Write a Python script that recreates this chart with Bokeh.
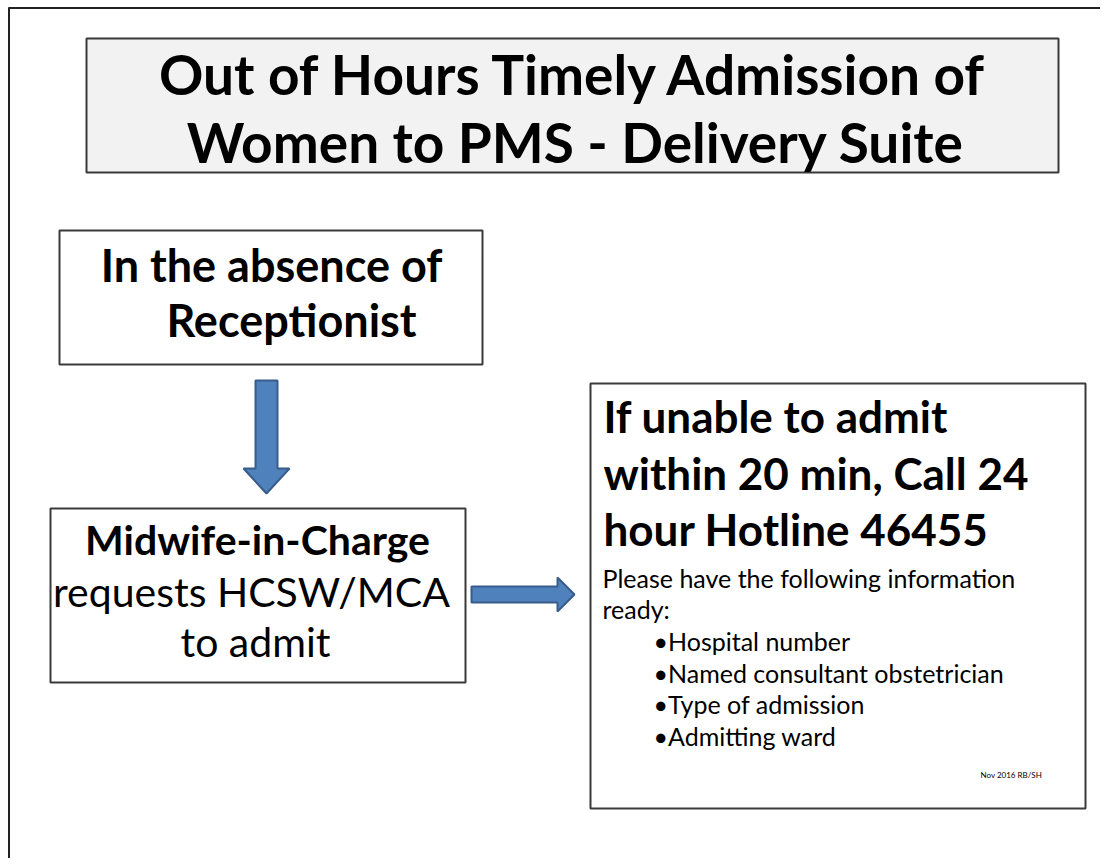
from bokeh.plotting import figure
from bokeh.models import Range1d
from bokeh.core.properties import value
from bokeh.embed import file_html
from bokeh.resources import INLINE

# ---- content ----
title_lines = ["Out of Hours Timely Admission of", "Women to PMS - Delivery Suite"]
box1_lines = ["In the absence of", "Receptionist"]
box2_bold = ["Midwife-in-Charge"]
box2_regular = ["requests HCSW/MCA", "to admit"]
box3_bold = ["If unable to admit", "within 20 min, Call 24", "hour Hotline 46455"]
box3_intro = ["Please have the following information", "ready:"]
box3_bullets = ["\u2022Hospital number", "\u2022Named consultant obstetrician",
                "\u2022Type of admission", "\u2022Admitting ward"]
footnote = ["Nov 2016 RB/SH"]

FONT = "Lato"
EDGE = "#3a3a3a"
ARROW_FILL = "#4f81bd"
ARROW_EDGE = "#385d8a"

p = figure(width=1100, height=858, x_range=Range1d(0, 1100), y_range=Range1d(858, 0),
           output_backend="svg", toolbar_location=None, min_border=0,
           x_axis_type=None, y_axis_type=None)
p.grid.visible = False
p.outline_line_color = None
p.background_fill_color = "white"

# outer frame (left and top edges)
p.line(x=[8.5, 8.5], y=[7, 858], line_color="#222222", line_width=2)
p.line(x=[8, 1100], y=[7.5, 7.5], line_color="#222222", line_width=2)

# boxes
p.quad(left=[86], right=[1058], top=[38], bottom=[172], fill_color="#f2f2f2",
       line_color=EDGE, line_width=2)
p.quad(left=[59, 50, 590], right=[482, 465, 1085], top=[230, 508, 383],
       bottom=[364, 682, 808], fill_color="white", line_color=EDGE, line_width=2)

# arrows
p.patch(x=[255, 277, 277, 289, 266, 243, 255], y=[380, 380, 468, 468, 493, 468, 468],
        fill_color=ARROW_FILL, line_color=ARROW_EDGE, line_width=2)
p.patch(x=[471, 557, 557, 574, 557, 557, 471], y=[586, 586, 577, 594, 611, 602, 602],
        fill_color=ARROW_FILL, line_color=ARROW_EDGE, line_width=2)

def txt(xs, ys, lines, size, bold=False, align="center"):
    ys = [y - 0.4 * size for y in ys]
    p.text(x=xs, y=ys, text=lines, text_font=value(FONT),
           text_font_style="bold" if bold else "normal", text_font_size=f"{size}px",
           text_align=align, text_baseline="alphabetic", text_color="black")

txt([574, 575], [95, 163], title_lines, 55, bold=True)
txt([271, 291], [282, 337], box1_lines, 45, bold=True)
txt([257], [555], box2_bold, 41, bold=True)
txt([251, 255], [607, 657], box2_regular, 41)
txt([603, 603, 603], [433, 490, 546], box3_bold, 44, bold=True, align="left")
txt([602, 602], [587, 618], box3_intro, 25, align="left")
txt([653] * 4, [650, 682, 713, 745], box3_bullets, 25, align="left")
txt([980], [778], footnote, 8, align="left")

open("out.html", "w").write(file_html(p, INLINE))
